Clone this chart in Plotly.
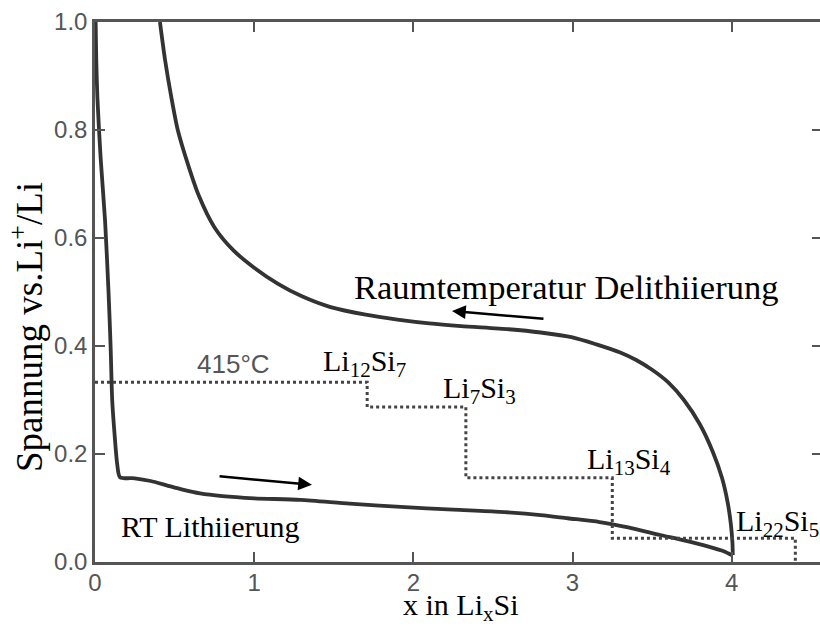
import plotly.graph_objects as go

# Room-temperature lithiation (discharge) curve, x in LixSi vs. voltage
lith_x = [0.004, 0.008, 0.015, 0.035, 0.063, 0.085, 0.098, 0.108, 0.122, 0.140, 0.157,
          0.25, 0.35, 0.45, 0.55, 0.66, 0.80, 1.00, 1.29, 1.60, 1.92, 2.25, 2.54, 2.80, 2.97,
          3.17, 3.35, 3.55, 3.70, 3.86, 3.95, 4.00]
lith_y = [1.000, 0.930, 0.860, 0.750, 0.633, 0.500, 0.400, 0.300, 0.240, 0.180, 0.157,
          0.155, 0.150, 0.142, 0.134, 0.127, 0.122, 0.118, 0.115, 0.108, 0.102, 0.097, 0.093,
          0.087, 0.081, 0.074, 0.064, 0.050, 0.040, 0.028, 0.020, 0.013]

# Room-temperature delithiation (charge) curve
delith_x = [4.007, 4.005, 3.995, 3.975, 3.940, 3.880, 3.800, 3.700, 3.600, 3.500, 3.400,
            3.300, 3.150, 3.000, 2.800, 2.600, 2.300, 2.100, 1.900, 1.700, 1.480, 1.300,
            1.150, 1.000, 0.870, 0.750, 0.650, 0.580, 0.520, 0.480, 0.440, 0.408]
delith_y = [0.013, 0.035, 0.070, 0.110, 0.155, 0.205, 0.255, 0.300, 0.333, 0.356, 0.374,
            0.388, 0.403, 0.416, 0.425, 0.431, 0.437, 0.442, 0.449, 0.458, 0.472, 0.492,
            0.515, 0.545, 0.577, 0.620, 0.680, 0.740, 0.800, 0.860, 0.930, 1.000]

# 415 °C equilibrium plateaus (step profile)
step_x = [0.00, 1.71, 1.71, 2.33, 2.33, 3.25, 3.25, 4.40, 4.40]
step_y = [0.333, 0.333, 0.287, 0.287, 0.156, 0.156, 0.044, 0.044, 0.000]

# Phase labels placed at the plateau corners
phase_labels = ["Li<sub>12</sub>Si<sub>7</sub>", "Li<sub>7</sub>Si<sub>3</sub>",
                "Li<sub>13</sub>Si<sub>4</sub>", "Li<sub>22</sub>Si<sub>5</sub>"]
phase_x = [1.693, 2.418, 3.357, 4.287]
phase_y = [0.369, 0.318, 0.187, 0.072]

x_ticks = [0, 1, 2, 3, 4]
y_ticks = [0.0, 0.2, 0.4, 0.6, 0.8, 1.0]

curve_color = "#333333"
axis_color = "#555555"
serif = "Liberation Serif"
sans = "Liberation Sans"

fig = go.Figure()

line_style = dict(color=curve_color, width=3.8, shape="spline", smoothing=0.7)
fig.add_trace(go.Scatter(x=lith_x, y=lith_y, mode="lines", line=line_style,
                         showlegend=False, hoverinfo="skip"))
fig.add_trace(go.Scatter(x=delith_x, y=delith_y, mode="lines", line=line_style,
                         showlegend=False, hoverinfo="skip"))
fig.add_trace(go.Scatter(x=step_x, y=step_y, mode="lines",
                         line=dict(color="#444444", width=3, dash="dot"),
                         showlegend=False, hoverinfo="skip"))
# carrier for the right-hand tick marks
fig.add_trace(go.Scatter(x=[0], y=[0], yaxis="y2", mode="markers",
                         marker=dict(opacity=0), showlegend=False, hoverinfo="skip"))

annotations = []
for txt, px, py in zip(phase_labels, phase_x, phase_y):
    annotations.append(dict(x=px, y=py, xref="x", yref="y", text=txt, showarrow=False,
                            xanchor="center", yanchor="middle",
                            font=dict(family=serif, size=30, color="black")))

annotations += [
    dict(x=0.867, y=0.367, xref="x", yref="y", text="415°C", showarrow=False,
         font=dict(family=sans, size=26, color="#555555")),
    dict(x=2.958, y=0.509, xref="x", yref="y", text="Raumtemperatur Delithiierung",
         showarrow=False, font=dict(family=serif, size=34.5, color="black")),
    dict(x=0.722, y=0.065, xref="x", yref="y", text="RT Lithiierung",
         showarrow=False, font=dict(family=serif, size=30, color="black")),
    # direction arrows
    dict(x=1.363, y=0.143, ax=0.773, ay=0.159, xref="x", yref="y", axref="x", ayref="y",
         showarrow=True, arrowhead=2, arrowsize=1.1, arrowwidth=2.5, arrowcolor="black", text=""),
    dict(x=2.243, y=0.465, ax=2.827, ay=0.450, xref="x", yref="y", axref="x", ayref="y",
         showarrow=True, arrowhead=2, arrowsize=1.1, arrowwidth=2.5, arrowcolor="black", text=""),
]

# axis titles, positioned in pixels and converted to paper coordinates
W, H = 820, 626
L, R, T, B = 95, 0, 22, 64
pw, ph = W - L - R, H - T - B
annotations += [
    dict(x=(461 - L) / pw, y=(H - B - 607) / ph, xref="paper", yref="paper",
         text="x in Li<sub>x</sub>Si", showarrow=False, xanchor="center", yanchor="middle",
         font=dict(family=serif, size=30, color="black")),
    dict(x=(26 - L) / pw, y=(H - B - 327) / ph, xref="paper", yref="paper",
         text="Spannung vs.Li<sup>+</sup>/Li", showarrow=False, textangle=-90,
         xanchor="center", yanchor="middle",
         font=dict(family=serif, size=37, color="black")),
]

fig.update_layout(
    width=W, height=H,
    margin=dict(l=L, r=R, t=T, b=B, pad=0),
    paper_bgcolor="white", plot_bgcolor="white",
    annotations=annotations,
    xaxis=dict(range=[0, 4.555], tickvals=x_ticks, ticktext=[str(v) for v in x_ticks],
               ticks="inside", ticklen=10, tickwidth=2, tickcolor=axis_color,
               showline=True, linecolor=axis_color, linewidth=2.5, mirror="ticks",
               showgrid=False, zeroline=False, ticklabelstandoff=-3,
               tickfont=dict(family=sans, size=24, color="#555555")),
    yaxis=dict(range=[0, 1.0], tickvals=y_ticks, ticktext=[f"{v:.1f}" for v in y_ticks],
               ticks="inside", ticklen=10, tickwidth=2, tickcolor=axis_color,
               showline=True, linecolor=axis_color, linewidth=2.5,
               showgrid=False, zeroline=False,
               tickfont=dict(family=sans, size=24, color="#555555")),
    yaxis2=dict(range=[0, 1.0], overlaying="y", side="right", anchor="x",
                tickvals=y_ticks[1:-1], ticks="inside", ticklen=8, tickwidth=2,
                tickcolor=axis_color, showticklabels=False, showline=False,
                showgrid=False, zeroline=False),
)

fig.write_html("out.html")
